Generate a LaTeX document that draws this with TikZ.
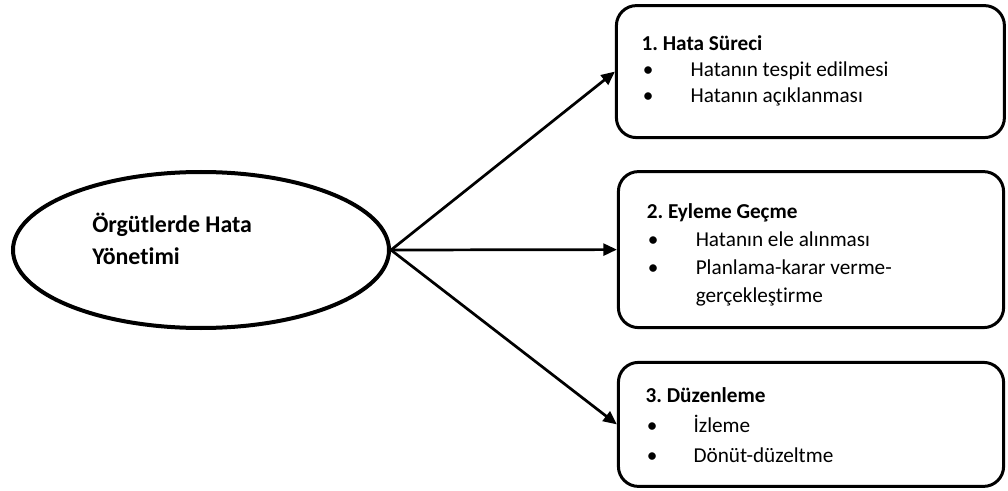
\documentclass[tikz,border=0pt]{standalone}
\usepackage{fontspec}
\setmainfont[Ligatures=NoCommon]{Carlito}
\usetikzlibrary{shapes.geometric}
\usetikzlibrary{arrows.meta}
\usetikzlibrary{positioning}
\tikzstyle{topic} = [ellipse, draw=black, line width=0.1cm, fill=white, minimum width=9.4cm, minimum height=3.9cm, inner sep=0pt]
\tikzstyle{stage} = [rectangle, rounded corners=0.5cm, draw=black, line width=0.075cm, fill=white, inner sep=0pt]
\tikzstyle{txt} = [anchor=base west, inner sep=0pt, font=\fontsize{15.1}{18.6}\selectfont\frenchspacing]
\tikzstyle{arrow} = [line width=0.068cm, -{Triangle[length=0.34cm,width=0.3cm]}]
\newcommand{\itm}{\hspace{0.03cm}\textbullet}

\begin{document}
\begin{tikzpicture}
  \useasboundingbox (0,0) rectangle (25.2,-12.275);

  % centre
  \node[topic] (hy) at (5.025,-6.25) {};
  \node[txt, font=\fontsize{17}{19.9}\selectfont] (hytxt) at (2.3,-5.8) {%
    \begin{tabular}[t]{@{}l@{}}
      \textbf{Örgütlerde Hata}\\[0.12cm]
      \textbf{Yönetimi}
    \end{tabular}};

  % boxes
  \node[stage, minimum width=9.7cm, minimum height=3.3cm] (hs) at (20.26,-1.79) {};
  \node[stage, minimum width=9.63cm, minimum height=3.9cm] (eg) at (20.275,-6.24) {};
  \node[stage, minimum width=9.63cm, minimum height=3.1cm] (dz) at (20.275,-10.61) {};

  \node[txt] (hstxt) at ([shift={(0.66,-1.16)}]hs.north west) {%
    \begin{tabular}[t]{@{}p{1.225cm}@{}l@{}}
      \multicolumn{2}{@{}l@{}}{\textbf{1. Hata Süreci}}\\
      \itm & Hatanın tespit edilmesi\\
      \itm & Hatanın açıklanması
    \end{tabular}};
  \node[txt] (egtxt) at ([shift={(0.74,-1.22)}]eg.north west) {%
    \begin{tabular}[t]{@{}p{1.225cm}@{}l@{}}
      \multicolumn{2}{@{}l@{}}{\textbf{2. Eyleme Geçme}}\\[0.03cm]
      \itm & Hatanın ele alınması\\[0.05cm]
      \itm & Planlama-karar verme-\\[0.04cm]
           & gerçekleştirme
    \end{tabular}};
  \node[txt] (dztxt) at ([shift={(0.71,-1.04)}]dz.north west) {%
    \begin{tabular}[t]{@{}p{1.2cm}@{}l@{}}
      \multicolumn{2}{@{}l@{}}{\textbf{3. Düzenleme}}\\[0.1cm]
      \itm & İzleme\\[0.08cm]
      \itm & Dönüt-düzeltme
    \end{tabular}};

  \draw[arrow] (hy.east) -- (hs.west);
  \draw[arrow] (hy.east) -- (eg.west);
  \draw[arrow] (hy.east) -- (dz.west);

\end{tikzpicture}
\end{document}
